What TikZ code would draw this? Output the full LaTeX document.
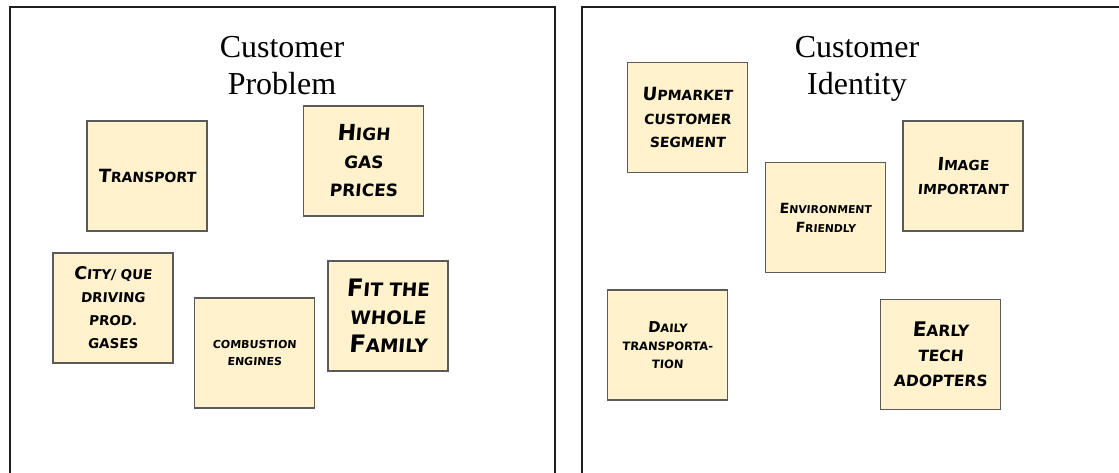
\documentclass[tikz,border=0pt]{standalone}
\usepackage{fontspec}
\setmainfont{Liberation Serif}
\newfontfamily\markerfont[FakeSlant=0.08]{DejaVu Sans Bold}

\definecolor{notefill}{HTML}{FFF2CC}
\definecolor{noteedge}{HTML}{5A5A5A}
\definecolor{paneledge}{HTML}{1E1E1E}

% enlarged initial capital for the small-caps lettering
\makeatletter
\newcommand\Cap[1]{{\fontsize{\fpeval{1.3*\f@size}}{0}\selectfont #1}}
\makeatother

\tikzset{
  panel/.style={draw=paneledge, line width=2pt},
  note/.style={draw=noteedge, fill=notefill, line width=1.2pt,
    minimum width=120pt, minimum height=110pt, inner sep=0pt,
    align=center, text=black},
  ms/.style 2 args={font={\markerfont\fontsize{#1}{#2}\selectfont}},
  title/.style={font={\fontsize{32}{38}\selectfont}, anchor=base, inner sep=0pt},
}

\begin{document}
\begin{tikzpicture}[x=1pt,y=-1pt]
\useasboundingbox (0,0) rectangle (1119,472);
\clip (0,0) rectangle (1119,472);

% two boards
\draw[panel] (10,7) rectangle (555,520);
\draw[panel] (581.5,7) rectangle (1160,520);

% board headings
\node[title] (tp1) at (282,57) {Customer};
\node[title] (tp2) at (282,94) {Problem};
\node[title] (ti1) at (857,57) {Customer};
\node[title] (ti2) at (857,94) {Identity};

% notes on the problem board
\node[note, ms={14}{28}] (trans) at (147,176) {\Cap{T}RANSPORT};
\node[note, ms={17}{28}] (gas) at (363.5,161) {\Cap{H}IGH\\GAS\\PRICES};
\node[note, ms={13.5}{23}] (city) at (113,308) {\Cap{C}ITY/ QUE\\DRIVING\\PROD.\\GASES};
\node[note, ms={11}{17}] (comb) at (254.5,353) {COMBUSTION\\ENGINES};
\node[note, ms={18.5}{28}] (fit) at (388,316) {\Cap{F}IT THE\\WHOLE\\\Cap{F}AMILY};

% notes on the identity board
\node[note, ms={14}{23.5}] (up) at (687.5,117.5) {\Cap{U}PMARKET\\CUSTOMER\\SEGMENT};
\node[note, ms={10.8}{19}] (env) at (825.5,217.5) {\Cap{E}NVIRONMENT\\\Cap{F}RIENDLY};
\node[note, ms={13.8}{24}] (img) at (963,176) {\Cap{I}MAGE\\IMPORTANT};
\node[note, ms={11.5}{18}] (daily) at (667.5,345) {\Cap{D}AILY\\TRANSPORTA-\\TION};
\node[note, ms={15.5}{25}] (early) at (940.5,354.5) {\Cap{E}ARLY\\TECH\\ADOPTERS};
\end{tikzpicture}
\end{document}
